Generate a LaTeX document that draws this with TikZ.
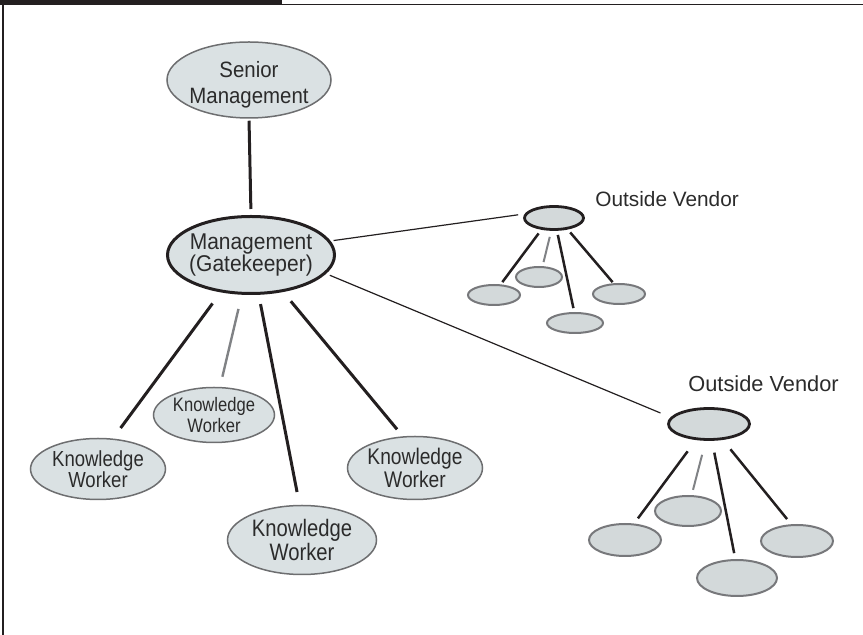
\documentclass[tikz,border=0pt]{standalone}
\usepackage{fontspec}
\usepackage{tikz}
\usetikzlibrary{shapes.geometric}
\newfontfamily\chartfont[FakeStretch=0.85]{Liberation Sans}
\newfontfamily\bossfont[FakeStretch=0.92]{Liberation Sans}
\newfontfamily\vendorfont{Liberation Sans}
\usepackage{xcolor}
\definecolor{kwfill}{HTML}{DAE1E3}
\definecolor{vfill}{HTML}{D3D9DA}
\definecolor{kwline}{HTML}{6D6E70}
\definecolor{subline}{HTML}{77787B}
\definecolor{greyspk}{HTML}{808285}
\definecolor{ink}{HTML}{231F20}
\definecolor{txtcol}{HTML}{2B2B2B}
\newcommand{\fs}[2][1.0]{\chartfont\fontsize{#2}{#1\dimexpr#2pt\relax}\selectfont}
\newcommand{\bfs}[2][1.0]{\bossfont\fontsize{#2}{#1\dimexpr#2pt\relax}\selectfont}

\tikzset{
  oval/.style={ellipse, draw=kwline, line width=0.75pt, fill=kwfill,
    inner sep=-3pt, align=center, text=txtcol},
  boss/.style={oval, draw=ink, line width=1.5pt},
  vendor/.style={ellipse, draw=ink, line width=1.4pt, fill=vfill, inner sep=0pt},
  member/.style={ellipse, draw=subline, line width=1pt, fill=vfill, inner sep=0pt},
  spoke/.style={draw=ink, line width=1.5pt},
  greyspoke/.style={draw=greyspk, line width=1.2pt},
  kidspoke/.style={draw=ink, line width=1.25pt},
  link/.style={draw=ink, line width=0.6pt},
  vlabel/.style={anchor=base west, inner sep=0pt, text=txtcol}
}

\begin{document}
\begin{tikzpicture}[x=0.5pt, y=-0.5pt]
\useasboundingbox (0,0) rectangle (863,635);

% frame
\fill[ink] (0,0) rectangle (282,5);
\draw[ink, line width=0.65pt] (282,4.5) -- (863,4.5);
\draw[ink, line width=0.65pt] (3,4) -- (3,635);

% people
\node[oval, minimum width=82pt, minimum height=38pt,
  label={[font={\bfs[1.17]{11.1}}, align=center, text=txtcol, yshift=-2.5pt]center:Senior\\Management}] (sm) at (249,80) {};
\node[boss, minimum width=83.5pt, minimum height=38.5pt, inner sep=-5pt, font={\bfs{11.4}}] (mgmt) at (251,255) {Management\\(Gatekeeper)};
\node[oval, minimum width=67.5pt, minimum height=30.5pt, font={\fs[0.95]{10.9}}] (kw1) at (98,469) {Knowledge\\Worker};
\node[oval, minimum width=60.5pt, minimum height=27.5pt, font={\fs[1.05]{9.75}}] (kw2) at (214,415) {Knowledge\\Worker};
\node[oval, minimum width=74.5pt, minimum height=34.5pt, font={\fs[1.05]{11.9}}] (kw3) at (302,540) {Knowledge\\Worker};
\node[oval, minimum width=67.5pt, minimum height=31.5pt, font={\fs[1.05]{11.3}}] (kw4) at (415,468) {Knowledge\\Worker};

% vendors
\node[vendor, minimum width=29.5pt, minimum height=11.5pt] (va) at (554,218) {};
\node[vendor, minimum width=40.5pt, minimum height=15.5pt] (vb) at (709,424) {};
\node[vlabel, font=\vendorfont\fontsize{10.4}{12}\selectfont] (valab) at (595,207) {Outside Vendor};
\node[vlabel, font=\vendorfont\fontsize{10.9}{12}\selectfont] (vblab) at (688,392) {Outside Vendor};

\foreach \n/\x/\y/\w/\h in {va1/494/295/26/10, va2/539/277/23/10, va3/575/323/28/10, va4/619/294/26/10,
    vb1/625/540/36/16, vb2/688/511/33/15, vb3/737/578/40/18, vb4/797/541/36/16}
  \node[member, minimum width=\w pt, minimum height=\h pt] (\n) at (\x,\y) {};

% connectors
\draw[spoke, shorten <=1pt, shorten >=3pt] (sm.south) -- (mgmt.north);
\draw[spoke, shorten <=6.9pt, shorten >=6.5pt] (mgmt.231) -- (kw1.64);
\draw[greyspoke, shorten <=7.3pt, shorten >=5.2pt] (mgmt.257) -- (kw2.78);
\draw[spoke, shorten <=4.7pt, shorten >=6.5pt] (mgmt.281) -- (kw3.94);
\draw[spoke, shorten <=6pt, shorten >=4.5pt] (mgmt.311) -- (kw4.111);
\draw[link, shorten <=1.5pt, shorten >=3.3pt] (mgmt.10) -- (va.172);
\draw[link, shorten <=2pt, shorten >=5.5pt] (mgmt.346) -- (vb.170);

\draw[kidspoke, shorten <=2.3pt, shorten >=1.4pt] (va.223) -- (va1.58);
\draw[greyspoke, line width=1pt, shorten <=3.1pt, shorten >=2.1pt] (va.258) -- (va2.72);
\draw[kidspoke, shorten <=2.1pt, shorten >=2pt] (va.283) -- (va3.94);
\draw[kidspoke, shorten <=1.9pt, shorten >=0.7pt] (va.320) -- (va4.117);

\draw[kidspoke, shorten <=7pt, shorten >=3.2pt] (vb.231) -- (vb1.61);
\draw[greyspoke, line width=1pt, shorten <=7.2pt, shorten >=2.7pt] (vb.259) -- (vb2.77);
\draw[kidspoke, shorten <=6pt, shorten >=3pt] (vb.280) -- (vb3.95);
\draw[kidspoke, shorten <=6pt, shorten >=3.3pt] (vb.311) -- (vb4.109);

\end{tikzpicture}
\end{document}
